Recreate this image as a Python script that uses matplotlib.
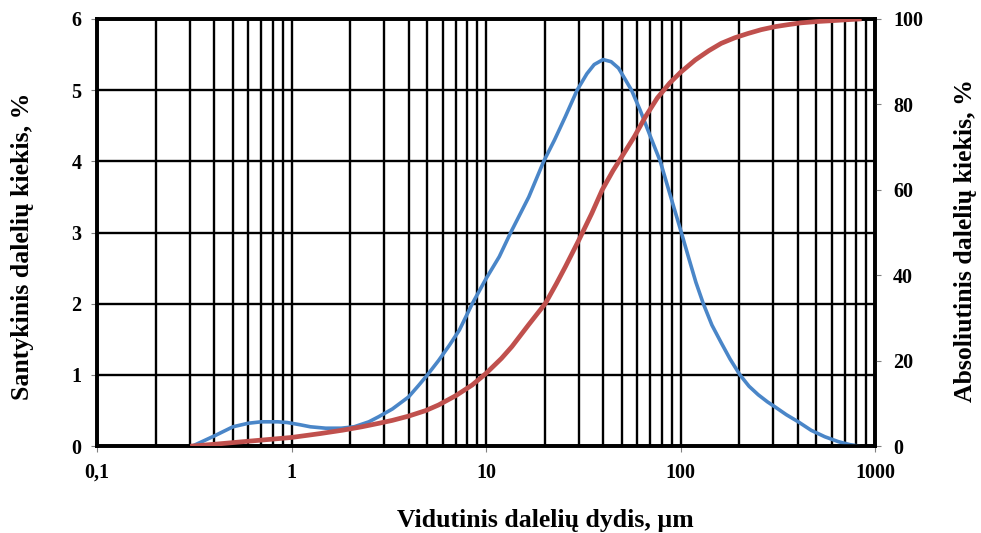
import numpy as np
import matplotlib
matplotlib.use("Agg")
import matplotlib.pyplot as plt
from matplotlib.ticker import FixedLocator, NullFormatter, LogLocator

plt.rcParams["font.family"] = ["Liberation Serif", "DejaVu Serif"]
plt.rcParams["font.weight"] = "bold"

# relative particle amount (left axis), %
rel_size = [0.31, 0.40, 0.50, 0.60, 0.70, 0.85, 0.95, 1.1, 1.25, 1.5, 1.8, 2.1,
            2.5, 2.8, 3.3, 4.0, 4.5, 5.0, 5.7, 6.5, 7.3, 8.5, 10, 11.7, 13.4,
            16.6, 19.8, 22.5, 25.6, 29.4, 33, 36, 40, 44, 48, 52, 56, 62, 70,
            78.7, 88, 101, 110, 120, 131, 145, 162, 180, 202, 225, 251, 280,
            306, 350, 403, 470, 552, 650, 740, 820]
rel_val = [0.0, 0.14, 0.27, 0.32, 0.34, 0.34, 0.33, 0.30, 0.27, 0.25, 0.25, 0.27,
           0.34, 0.41, 0.52, 0.69, 0.85, 1.0, 1.2, 1.42, 1.63, 2.0, 2.35, 2.66, 3.0,
           3.5, 4.0, 4.3, 4.63, 5.0, 5.23, 5.36, 5.43, 5.40, 5.31, 5.15, 5.0, 4.72, 4.35,
           4.0, 3.55, 3.0, 2.65, 2.3, 2.0, 1.70, 1.45, 1.22, 1.0, 0.84, 0.72, 0.62,
           0.55, 0.44, 0.34, 0.22, 0.13, 0.06, 0.02, 0.0]

# cumulative particle amount (right axis), %
cum_size = [0.31, 0.4, 0.56, 0.75, 1.0, 1.4, 1.83, 2.3, 2.8, 3.3, 4.0, 4.9, 5.7,
            7.0, 8.5, 10, 12, 13.6, 16.5, 20.2, 23, 25.6, 30, 35, 39.6, 45, 50,
            58, 66, 76, 88, 100, 119, 140, 162, 190, 222, 260, 306, 360, 417,
            500, 597, 700, 830]
cum_val = [0, 0.4, 1.0, 1.5, 2.0, 2.9, 3.7, 4.5, 5.3, 6.0, 7.0, 8.3, 9.6,
           11.8, 14.3, 17.0, 20.5, 23.3, 28.3, 33.4, 38.0, 42.0, 48.2, 54.5, 60, 64.5, 67.8,
           72.5, 77.1, 81.5, 85, 87.5, 90.4, 92.6, 94.3, 95.6, 96.6, 97.5, 98.2, 98.7, 99.1,
           99.4, 99.6, 99.8, 100]

x_ticks = [0.1, 1, 10, 100, 1000]
x_labels = ["0,1", "1", "10", "100", "1000"]

fig = plt.figure(figsize=(9.81, 5.33), dpi=100)
ax = fig.add_axes([97 / 981, 1 - 446 / 533, 778 / 981, 427 / 533])
ax.set_xscale("log")
ax.set_xlim(0.1, 1000)
ax.set_ylim(0, 6)
ax.set_axisbelow(True)

ax.xaxis.set_major_locator(FixedLocator(x_ticks))
ax.set_xticklabels(x_labels)
ax.xaxis.set_minor_locator(LogLocator(base=10, subs=np.arange(2, 10)))
ax.xaxis.set_minor_formatter(NullFormatter())
ax.set_yticks(range(7))

ax.grid(True, which="both", axis="x", color="black", lw=1.7)
ax.grid(True, which="major", axis="y", color="black", lw=1.7)

ax.tick_params(axis="x", which="major", length=4, color="gray", pad=8, labelsize=14.5)
ax.tick_params(axis="x", which="minor", length=0)
ax.tick_params(axis="y", length=4, color="gray", pad=7, labelsize=14.5)

ax.plot(rel_size, rel_val, color="#4a86c8", lw=2.6, zorder=3)

for s in ax.spines.values():
    s.set_linewidth(2.6)

ax2 = ax.twinx()
ax2.set_ylim(0, 100)
ax2.set_yticks(range(0, 101, 20))
ax2.tick_params(axis="y", length=4, color="gray", pad=9, labelsize=14.5)
ax2.plot(cum_size, cum_val, color="#c0504d", lw=3.4, zorder=3)
for s in ax2.spines.values():
    s.set_linewidth(2.6)

ax.set_xlabel("Vidutinis dalelių dydis, µm", fontsize=18.5, fontweight="bold")
ax.xaxis.set_label_coords(0.576, -0.148)
ax.set_ylabel("Santykinis dalelių kiekis, %", fontsize=18.5, fontweight="bold")
ax.yaxis.label.set_verticalalignment("center")
ax.yaxis.set_label_coords(-0.096, 0.468)
ax2.set_ylabel("Absoliutinis dalelių kiekis, %", fontsize=18.5, fontweight="bold")
ax2.yaxis.label.set_verticalalignment("center")
ax2.yaxis.set_label_coords(1.116, 0.482)

fig.savefig("out.png", dpi=100)
